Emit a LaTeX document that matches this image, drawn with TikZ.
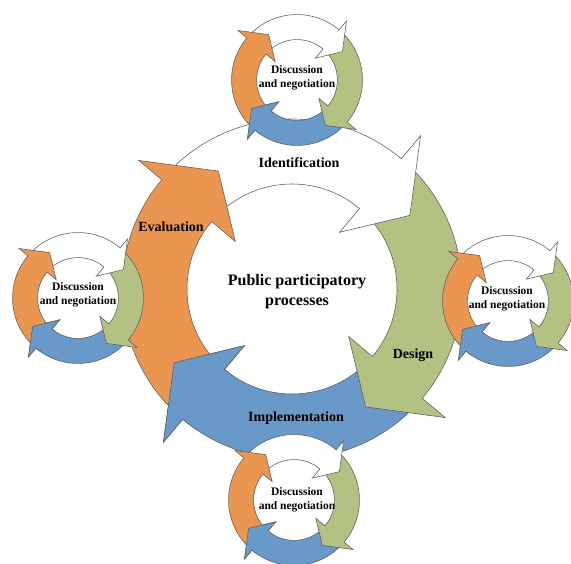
\documentclass[tikz,border=0pt]{standalone}
\usepackage{fontspec}
\setmainfont{Liberation Serif}

\definecolor{arrorange}{RGB}{235,150,80}
\definecolor{arrgreen}{RGB}{179,193,130}
\definecolor{arrblue}{RGB}{104,153,200}
\definecolor{arredge}{RGB}{100,100,100}

% one bent arrow of a cycle: tail angle, head angle, fill
\newcommand{\cycarrow}[3]{%
  \filldraw[arr, fill=#3] (#1:170) arc[start angle=#1, end angle=#2, radius=170]
    -- (#2:200) -- (#2-18:139) -- (#2:74) -- (#2:105)
    arc[start angle=#2, end angle=#1, radius=105] -- cycle;}

% four arrows round the origin, blue head put back on top of the orange tail
\newcommand{\arrowcycle}{%
  \cycarrow{-43}{-130}{arrblue}
  \cycarrow{47}{-40}{arrgreen}
  \cycarrow{137}{50}{white}
  \cycarrow{227}{140}{arrorange}
  \begin{scope}
    \clip (0,0) -- (236:215) arc[start angle=236, end angle=196, radius=215] -- cycle;
    \cycarrow{-43}{-130}{arrblue}
  \end{scope}}

\begin{document}
\begin{tikzpicture}[x=1pt, y=1pt,
  arr/.style={draw=arredge, line width=0.6pt, line join=miter},
  stage/.style={font=\bfseries\fontsize{14}{16}\selectfont},
  talk/.style={font=\bfseries\fontsize{11.5}{14}\selectfont, align=center},
  core/.style={font=\bfseries\fontsize{16}{20}\selectfont, align=center}]
  \fill[white] (0,0) rectangle (571,-564);
  \useasboundingbox (0,0) rectangle (571,-564);

  \begin{scope}[shift={(292,-289)}]
    \arrowcycle
  \end{scope}
  \begin{scope}[shift={(297,-80)}, scale=0.385]
    \arrowcycle
  \end{scope}
  \begin{scope}[shift={(78,-298)}, scale=0.385]
    \arrowcycle
  \end{scope}
  \begin{scope}[shift={(508,-301)}, scale=0.385]
    \arrowcycle
  \end{scope}
  \begin{scope}[shift={(294,-500)}, scale=0.385]
    \arrowcycle
  \end{scope}

  \node[core] (main) at (297,-292) {Public participatory\\processes};
  \node[stage] (ident) at (299,-163) {Identification};
  \node[stage] (eval) at (171,-227) {Evaluation};
  \node[stage] (design) at (413,-355) {Design};
  \node[stage] (impl) at (296,-418) {Implementation};

  \node[talk] (dnTop) at (297,-78) {Discussion\\and negotiation};
  \node[talk] (dnLeft) at (78,-295) {Discussion\\and negotiation};
  \node[talk] (dnRight) at (507,-299) {Discussion\\and negotiation};
  \node[talk] (dnBottom) at (297,-500) {Discussion\\and negotiation};
\end{tikzpicture}
\end{document}
